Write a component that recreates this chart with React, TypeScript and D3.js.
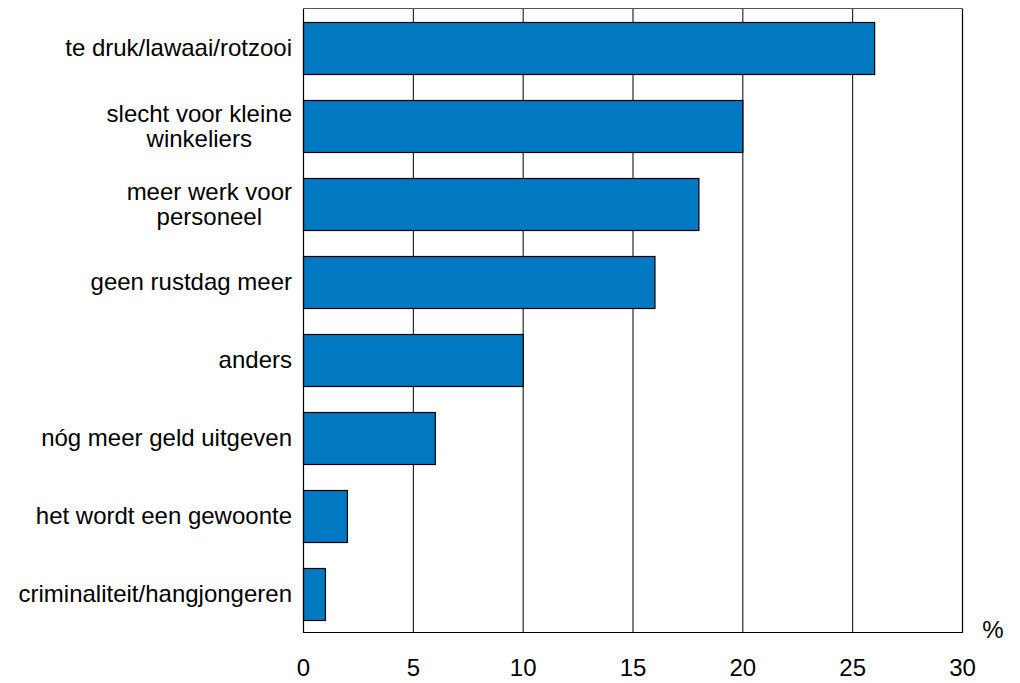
import React, { useEffect, useRef } from 'react';
import * as d3 from 'd3';

const categories: string[][] = [
  ['te druk/lawaai/rotzooi'],
  ['slecht voor kleine', 'winkeliers'],
  ['meer werk voor', 'personeel'],
  ['geen rustdag meer'],
  ['anders'],
  ['nóg meer geld uitgeven'],
  ['het wordt een gewoonte'],
  ['criminaliteit/hangjongeren'],
];
const values: number[] = [26, 20, 18, 16, 10, 6, 2, 1];
const xTicks: number[] = [0, 5, 10, 15, 20, 25, 30];

const App: React.FC = () => {
  const ref = useRef<SVGSVGElement | null>(null);

  useEffect(() => {
    const width = 1020;
    const height = 683;
    const plot = { left: 303.5, right: 962.5, top: 8.5, bottom: 632.5 };
    const font = 'Liberation Sans, Arial, sans-serif';
    const fontSize = 24;

    const root = d3.select(ref.current);
    root.selectAll('*').remove();
    root.attr('width', width).attr('height', height);

    const x = d3.scaleLinear().domain([0, 30]).range([plot.left, plot.right]);
    const y = d3.scaleBand<number>()
      .domain(d3.range(values.length))
      .range([plot.top, plot.bottom])
      .paddingInner(1 / 3)
      .paddingOuter(1 / 6);

    // Grid lines
    root.append('g')
      .selectAll('line')
      .data(xTicks.slice(1, -1))
      .enter()
      .append('line')
      .attr('x1', d => x(d))
      .attr('x2', d => x(d))
      .attr('y1', plot.top)
      .attr('y2', plot.bottom)
      .attr('stroke', '#000')
      .attr('stroke-width', 1);

    // Bars
    root.append('g')
      .selectAll('rect')
      .data(values)
      .enter()
      .append('rect')
      .attr('x', x(0))
      .attr('y', (_, i) => Math.round(y(i)!) + 0.5)
      .attr('width', d => x(d) - x(0))
      .attr('height', Math.round(y.bandwidth()))
      .attr('fill', '#0079c2')
      .attr('stroke', '#000')
      .attr('stroke-width', 1.2);

    // Frame
    root.append('path')
      .attr('d', `M${plot.left},${plot.top}V${plot.bottom}H${plot.right}V${plot.top}`)
      .attr('fill', 'none')
      .attr('stroke', '#000')
      .attr('stroke-width', 1.2);
    root.append('line')
      .attr('x1', plot.left)
      .attr('x2', plot.right)
      .attr('y1', plot.top)
      .attr('y2', plot.top)
      .attr('stroke', '#555')
      .attr('stroke-width', 1.2);

    // X tick labels
    root.append('g')
      .selectAll('text')
      .data(xTicks)
      .enter()
      .append('text')
      .attr('x', d => x(d))
      .attr('y', 676)
      .attr('text-anchor', 'middle')
      .attr('font-family', font)
      .attr('font-size', fontSize)
      .attr('fill', '#000')
      .text(d => String(d));

    root.append('text')
      .attr('x', 993)
      .attr('y', 638)
      .attr('text-anchor', 'middle')
      .attr('font-family', font)
      .attr('font-size', fontSize)
      .attr('fill', '#000')
      .text('%');

    // Category labels
    const labelRight = 292;
    const lineGap = 25;
    categories.forEach((lines, i) => {
      const cy = y(i)! + y.bandwidth() / 2;
      const g = root.append('g');
      if (lines.length === 1) {
        g.append('text')
          .attr('x', labelRight)
          .attr('y', cy + 8.5)
          .attr('text-anchor', 'end')
          .attr('font-family', font)
          .attr('font-size', fontSize)
          .attr('fill', '#000')
          .text(lines[0]);
      } else {
        const first = g.append('text')
          .attr('x', labelRight)
          .attr('y', cy + 8.5 - lineGap / 2)
          .attr('text-anchor', 'end')
          .attr('font-family', font)
          .attr('font-size', fontSize)
          .attr('fill', '#000')
          .text(lines[0]);
        const w = (first.node() as SVGTextElement).getComputedTextLength();
        g.append('text')
          .attr('x', labelRight - w / 2)
          .attr('y', cy + 8.5 + lineGap / 2)
          .attr('text-anchor', 'middle')
          .attr('font-family', font)
          .attr('font-size', fontSize)
          .attr('fill', '#000')
          .text(lines[1]);
      }
    });
  }, []);

  return <svg ref={ref} style={{ position: 'absolute', left: 0, top: 0, background: '#fff' }} />;
};

export default App;
